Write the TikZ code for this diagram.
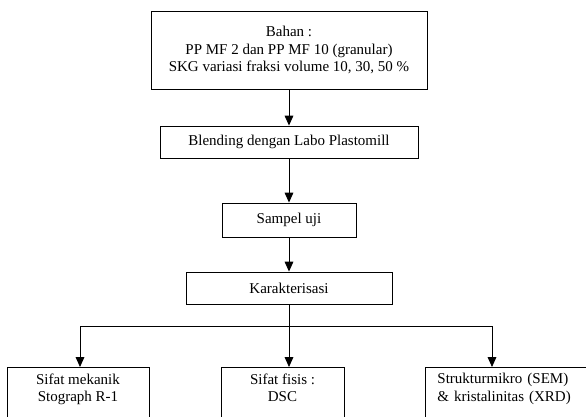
\documentclass[tikz,border=0pt]{standalone}
\usepackage{fontspec}
\setmainfont{Liberation Serif}
\usetikzlibrary{arrows.meta}
\tikzset{
	box/.style={draw,line width=0.7pt,align=center,inner sep=0pt},
	lowbox/.style={box,anchor=north,inner ysep=4.8pt,text depth=40pt},
	arr/.style={line width=0.7pt,-{Triangle[length=8pt,width=7pt]}}
}
\begin{document}
\begin{tikzpicture}[x=0.8pt,y=-0.8pt,font=\fontsize{12}{13.8}\selectfont]
	\useasboundingbox (0,0) rectangle (586,416);
	\node[box,minimum width=220.8pt,minimum height=62.4pt] (bahan) at (289,50)
		{Bahan :\\PP MF 2 dan PP MF 10 (granular)\\SKG variasi fraksi volume 10, 30, 50 \%};
	\node[box,minimum width=206.4pt,minimum height=25.6pt] (blend) at (289,142) {Blending dengan Labo Plastomill};
	\node[box,minimum width=107.2pt,minimum height=27.2pt] (sampel) at (289,220) {Sampel uji};
	\node[box,minimum width=164.8pt,minimum height=25.6pt] (kar) at (289,288) {Karakterisasi};
	\node[lowbox,minimum width=113.6pt] (mek) at (78,367) {Sifat mekanik\\Stograph R-1};
	\node[lowbox,minimum width=98.4pt] (fis) at (282.5,367) {Sifat fisis :\\DSC};
	\node[lowbox,anchor=north west,align=left,inner xsep=9.6pt,text width=120.8pt] (str) at (425,367)
		{Strukturmikro (SEM)\\\& kristalinitas (XRD)};
	\coordinate (split) at (289,326);
	\coordinate (lj) at (80,326);
	\coordinate (rj) at (492,326);
	\draw[arr] (bahan) -- (blend);
	\draw[arr] (blend) -- (sampel);
	\draw[arr] (sampel) -- (kar);
	\draw[line width=0.7pt] (kar.south) -- (split) (lj) -- (rj);
	\draw[arr] (lj) -- (lj |- mek.north);
	\draw[arr] (split) -- (split |- fis.north);
	\draw[arr] (rj) -- (rj |- str.north);
\end{tikzpicture}
\end{document}
